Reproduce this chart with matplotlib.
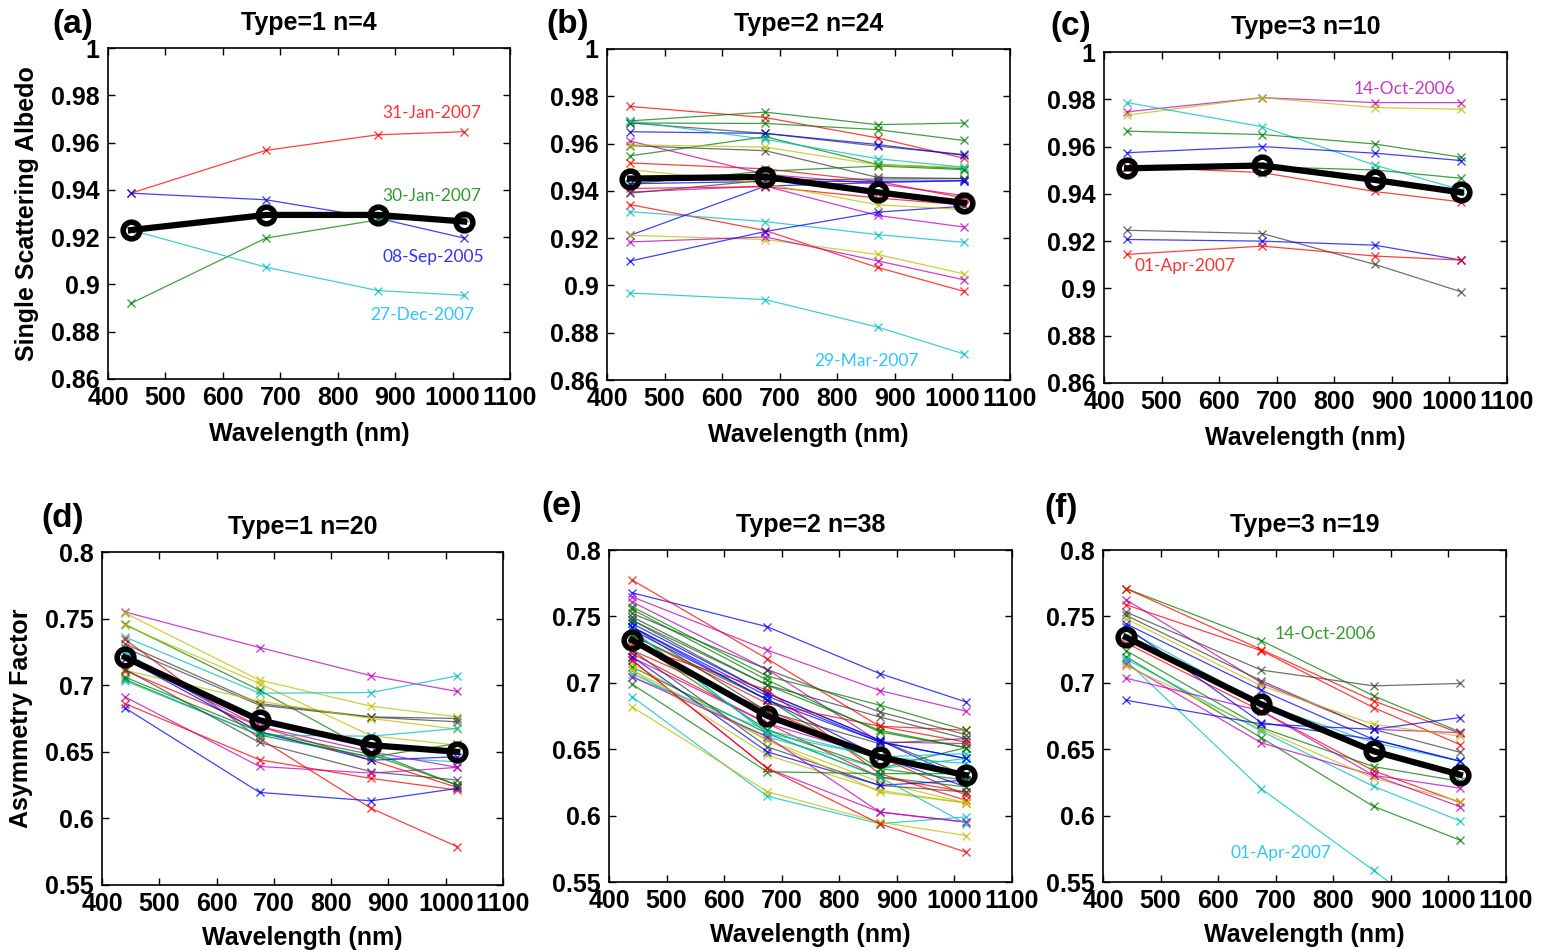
import numpy as np
import matplotlib
matplotlib.use('Agg')
import matplotlib.pyplot as plt
from matplotlib.ticker import FuncFormatter

plt.rcParams['font.family'] = ['Liberation Sans', 'DejaVu Sans']

wavelength = [440, 675, 870, 1020]

# colour code of every case line, then its values at the four wavelengths
ssa_t1_codes = ['r', 'b', 'g', 'c']
ssa_t1 = [
    [0.9386, 0.9567, 0.9633, 0.9646],
    [0.9386, 0.9358, 0.9280, 0.9196],
    [0.8920, 0.9196, 0.9273, 0.9280],
    [0.9230, 0.9073, 0.8974, 0.8954],
]
ssa_t1_mean = [0.9230, 0.9294, 0.9294, 0.9266]

ssa_t2_codes = ['r', 'g', 'g', 'k', 'b', 'm', 'k', 'g', 'r', 'y', 'g', 'c',
                'b', 'm', 'k', 'r', 'c', 'b', 'y', 'm', 'b', 'c', 'r', 'y']
ssa_t2 = [
    [0.9757, 0.9710, 0.9624, 0.9538],
    [0.9696, 0.9733, 0.9680, 0.9687],
    [0.9687, 0.9685, 0.9659, 0.9613],
    [0.9687, 0.9643, 0.9589, 0.9554],
    [0.9650, 0.9643, 0.9596, 0.9550],
    [0.9611, 0.9470, 0.9430, 0.9380],
    [0.9591, 0.9570, 0.9457, 0.9452],
    [0.9548, 0.9629, 0.9512, 0.9494],
    [0.9518, 0.9493, 0.9440, 0.9370],
    [0.9595, 0.9585, 0.9510, 0.9500],
    [0.9430, 0.9483, 0.9505, 0.9490],
    [0.9695, 0.9618, 0.9536, 0.9500],
    [0.9430, 0.9440, 0.9440, 0.9443],
    [0.9395, 0.9420, 0.9296, 0.9247],
    [0.9390, 0.9445, 0.9450, 0.9452],
    [0.9342, 0.9232, 0.9076, 0.8975],
    [0.9312, 0.9270, 0.9215, 0.9182],
    [0.9212, 0.9420, 0.9435, 0.9443],
    [0.9212, 0.9194, 0.9131, 0.9049],
    [0.9184, 0.9205, 0.9104, 0.9024],
    [0.9103, 0.9228, 0.9310, 0.9335],
    [0.8968, 0.8940, 0.8824, 0.8710],
    [0.9410, 0.9418, 0.9370, 0.9340],
    [0.9490, 0.9430, 0.9341, 0.9321],
]
ssa_t2_mean = [0.9452, 0.9459, 0.9394, 0.9349]

ssa_t3_codes = ['m', 'y', 'c', 'g', 'b', 'g', 'r', 'k', 'b', 'r']
ssa_t3 = [
    [0.9747, 0.9807, 0.9786, 0.9786],
    [0.9733, 0.9807, 0.9765, 0.9758],
    [0.9786, 0.9684, 0.9522, 0.9417],
    [0.9665, 0.9651, 0.9611, 0.9555],
    [0.9574, 0.9600, 0.9572, 0.9541],
    [0.9515, 0.9515, 0.9501, 0.9466],
    [0.9515, 0.9490, 0.9410, 0.9366],
    [0.9246, 0.9232, 0.9102, 0.8986],
    [0.9207, 0.9200, 0.9183, 0.9120],
    [0.9144, 0.9179, 0.9137, 0.9120],
]
ssa_t3_mean = [0.9508, 0.9520, 0.9459, 0.9406]

asy_t1_codes = ['m', 'y', 'g', 'y', 'c', 'r', 'k', 'c', 'k', 'y',
                'r', 'b', 'm', 'g', 'c', 'k', 'm', 'r', 'b', 'g']
asy_t1 = [
    [0.7550, 0.7283, 0.7071, 0.6953],
    [0.7542, 0.7038, 0.6842, 0.6763],
    [0.7457, 0.6962, 0.6500, 0.6250],
    [0.7450, 0.7012, 0.6620, 0.6550],
    [0.7362, 0.6940, 0.6945, 0.7070],
    [0.7345, 0.6600, 0.6075, 0.5788],
    [0.7310, 0.6862, 0.6762, 0.6750],
    [0.7250, 0.6640, 0.6460, 0.6425],
    [0.7280, 0.6850, 0.6760, 0.6725],
    [0.7112, 0.6880, 0.6750, 0.6670],
    [0.7110, 0.6690, 0.6437, 0.6233],
    [0.7200, 0.6650, 0.6437, 0.6463],
    [0.7200, 0.6690, 0.6500, 0.6383],
    [0.7043, 0.6625, 0.6460, 0.6562],
    [0.7033, 0.6625, 0.6617, 0.6675],
    [0.7120, 0.6570, 0.6350, 0.6288],
    [0.6912, 0.6390, 0.6340, 0.6383],
    [0.6862, 0.6440, 0.6300, 0.6213],
    [0.6830, 0.6195, 0.6132, 0.6225],
    [0.7060, 0.6650, 0.6480, 0.6250],
]
asy_t1_mean = [0.7210, 0.6737, 0.6550, 0.6500]

asy_t2_codes = ['b', 'r', 'm', 'm', 'k', 'g', 'g', 'k', 'k', 'b',
                'b', 'b', 'r', 'g', 'r', 'r', 'r', 'm', 'm', 'y',
                'g', 'y', 'c', 'c', 'g', 'c', 'y', 'r', 'k', 'b',
                'g', 'c', 'y', 'm', 'k', 'g', 'b', 'c']
asy_t2 = [
    [0.7678, 0.7422, 0.7070, 0.6856],
    [0.7774, 0.7180, 0.6673, 0.6643],
    [0.7648, 0.7246, 0.6942, 0.6786],
    [0.7610, 0.7100, 0.6555, 0.6542],
    [0.7523, 0.7100, 0.6781, 0.6610],
    [0.7573, 0.7050, 0.6832, 0.6643],
    [0.7553, 0.7020, 0.6630, 0.6512],
    [0.7497, 0.6983, 0.6743, 0.6580],
    [0.7472, 0.6920, 0.6568, 0.6304],
    [0.7447, 0.6920, 0.6568, 0.6266],
    [0.7422, 0.6900, 0.6555, 0.6430],
    [0.7397, 0.6874, 0.6442, 0.6216],
    [0.7359, 0.6844, 0.6673, 0.6553],
    [0.7359, 0.6874, 0.6354, 0.6512],
    [0.7284, 0.6945, 0.6316, 0.6115],
    [0.7246, 0.6794, 0.6442, 0.6153],
    [0.7221, 0.6694, 0.6291, 0.6178],
    [0.7191, 0.6694, 0.6442, 0.6304],
    [0.7171, 0.6355, 0.6027, 0.5951],
    [0.7146, 0.6568, 0.6253, 0.6095],
    [0.7120, 0.6618, 0.6291, 0.6216],
    [0.7095, 0.6455, 0.6190, 0.6095],
    [0.7070, 0.6593, 0.6354, 0.6430],
    [0.7045, 0.6643, 0.6442, 0.6467],
    [0.6990, 0.6330, 0.6316, 0.6316],
    [0.6895, 0.6146, 0.5939, 0.5990],
    [0.6819, 0.6180, 0.5951, 0.5850],
    [0.7171, 0.6355, 0.5939, 0.5725],
    [0.7246, 0.6518, 0.6228, 0.6178],
    [0.7197, 0.6480, 0.6228, 0.6266],
    [0.7322, 0.6643, 0.6354, 0.6266],
    [0.7397, 0.6618, 0.6442, 0.6393],
    [0.7095, 0.6568, 0.6178, 0.6095],
    [0.7045, 0.6593, 0.6027, 0.5951],
    [0.7422, 0.6783, 0.6542, 0.6580],
    [0.7472, 0.6983, 0.6643, 0.6512],
    [0.7422, 0.6870, 0.6555, 0.6430],
    [0.7397, 0.6620, 0.6290, 0.5939],
]
asy_t2_mean = [0.7322, 0.6751, 0.6442, 0.6304]

asy_t3_codes = ['g', 'r', 'r', 'm', 'k', 'k', 'y', 'b', 'c', 'r',
                'g', 'g', 'c', 'c', 'm', 'y', 'm', 'b', 'b']
asy_t3 = [
    [0.7710, 0.7318, 0.6902, 0.6630],
    [0.7710, 0.7250, 0.6864, 0.6620],
    [0.7588, 0.7242, 0.6813, 0.6535],
    [0.7626, 0.7000, 0.6650, 0.6624],
    [0.7533, 0.7096, 0.6977, 0.6995],
    [0.7508, 0.7015, 0.6649, 0.6477],
    [0.7482, 0.6977, 0.6687, 0.6599],
    [0.7444, 0.6944, 0.6573, 0.6410],
    [0.7400, 0.6840, 0.6550, 0.6410],
    [0.7300, 0.6788, 0.6338, 0.6099],
    [0.7242, 0.6662, 0.6369, 0.6258],
    [0.7197, 0.6586, 0.6069, 0.5816],
    [0.7179, 0.6636, 0.6220, 0.5960],
    [0.7167, 0.6202, 0.5587, 0.5100],
    [0.7141, 0.6548, 0.6303, 0.6207],
    [0.7130, 0.6650, 0.6283, 0.6106],
    [0.7035, 0.6788, 0.6303, 0.6068],
    [0.6869, 0.6690, 0.6650, 0.6738],
    [0.7420, 0.6700, 0.6573, 0.6410],
]
asy_t3_mean = [0.7343, 0.6838, 0.6485, 0.6308]

line_colors = {'r': '#ff0000', 'g': '#008000', 'b': '#0000ff', 'c': '#00bfbf',
               'm': '#bf00bf', 'y': '#bfbf00', 'k': '#404040'}
text_colors = {'r': '#ff3333', 'g': '#339933', 'b': '#3333ff', 'c': '#2ec8f8',
               'm': '#cc33cc'}

panels = [
    ('(a)', 'Type=1 n=4', ssa_t1_codes, ssa_t1, ssa_t1_mean, 'ssa',
     [(963, 0.9725, '31-Jan-2007', 'r'), (963, 0.9375, '30-Jan-2007', 'g'),
      (966, 0.9115, '08-Sep-2005', 'b'), (948, 0.8871, '27-Dec-2007', 'c')]),
    ('(b)', 'Type=2 n=24', ssa_t2_codes, ssa_t2, ssa_t2_mean, 'ssa',
     [(851, 0.8682, '29-Mar-2007', 'c')]),
    ('(c)', 'Type=3 n=10', ssa_t3_codes, ssa_t3, ssa_t3_mean, 'ssa',
     [(922, 0.9845, '14-Oct-2006', 'm'), (541, 0.9095, '01-Apr-2007', 'r')]),
    ('(d)', 'Type=1 n=20', asy_t1_codes, asy_t1, asy_t1_mean, 'asy', []),
    ('(e)', 'Type=2 n=38', asy_t2_codes, asy_t2, asy_t2_mean, 'asy', []),
    ('(f)', 'Type=3 n=19', asy_t3_codes, asy_t3, asy_t3_mean, 'asy',
     [(786, 0.7364, '14-Oct-2006', 'g'), (709, 0.5715, '01-Apr-2007', 'c')]),
]

# axes boxes in pixels (left, top, right, bottom)
W, H = 1543, 950
boxes = [(108, 48, 510, 379), (607, 49, 1010, 380), (1104, 52, 1507, 383),
         (102, 552, 503, 885), (609, 550, 1012, 882), (1103, 550, 1506, 882)]
tag_xy = [(73, 24), (568, 25), (1071, 27), (63, 519), (562, 506), (1061, 508)]

fig = plt.figure(figsize=(W / 100, H / 100), dpi=100)
fmt = FuncFormatter(lambda v, p: f'{round(v, 3):g}')

for i, (tag, title, codes, vals, mean, kind, notes) in enumerate(panels):
    l, t, r, b = boxes[i]
    ax = fig.add_axes([l / W, 1 - b / H, (r - l) / W, (b - t) / H])
    for c, v in zip(codes, vals):
        ax.plot(wavelength, v, '-x', color=line_colors[c], lw=0.9, ms=6,
                mew=1.0, alpha=0.75)
    ax.plot(wavelength, mean, '-o', color='black', lw=4.5, ms=12, mew=4,
            mfc='none', zorder=5)
    for x, y, s, c in notes:
        ax.text(x, y, s, color=text_colors[c], fontsize=12.5, family=['Lato', 'DejaVu Sans'],
                ha='center', va='center')

    ax.set_xlim(400, 1100)
    ax.set_xticks(np.arange(400, 1101, 100))
    if kind == 'ssa':
        ax.set_ylim(0.86, 1.0)
        ax.set_yticks(np.arange(0.86, 1.001, 0.02))
    else:
        ax.set_ylim(0.55, 0.8)
        ax.set_yticks(np.arange(0.55, 0.801, 0.05))
    ax.yaxis.set_major_formatter(fmt)
    ax.tick_params(direction='in', top=True, right=True, length=5, width=1,
                   labelsize=18)
    ax.tick_params(axis='y', pad=6)
    ax.tick_params(axis='x', pad=5)
    for lab in ax.get_xticklabels() + ax.get_yticklabels():
        lab.set_fontweight('bold')
    for sp in ax.spines.values():
        sp.set_linewidth(1.2)

    ax.set_xlabel('Wavelength (nm)', fontsize=18, fontweight='bold')
    ax.xaxis.set_label_coords(0.5, -0.13 if i < 3 else -0.122)
    if i == 0:
        ax.set_ylabel('Single Scattering Albedo', fontsize=18, fontweight='bold')
        ax.yaxis.set_label_coords(-0.172, 0.5)
    if i == 3:
        ax.set_ylabel('Asymmetry Factor', fontsize=18, fontweight='bold')
        ax.yaxis.set_label_coords(-0.172, 0.5)
    ax.set_title(title, fontsize=18, fontweight='bold', pad=13)

    fig.text(tag_xy[i][0] / W, 1 - tag_xy[i][1] / H, tag, fontsize=24,
             fontweight='bold', ha='center', va='center')

plt.savefig('out.png', dpi=100)
